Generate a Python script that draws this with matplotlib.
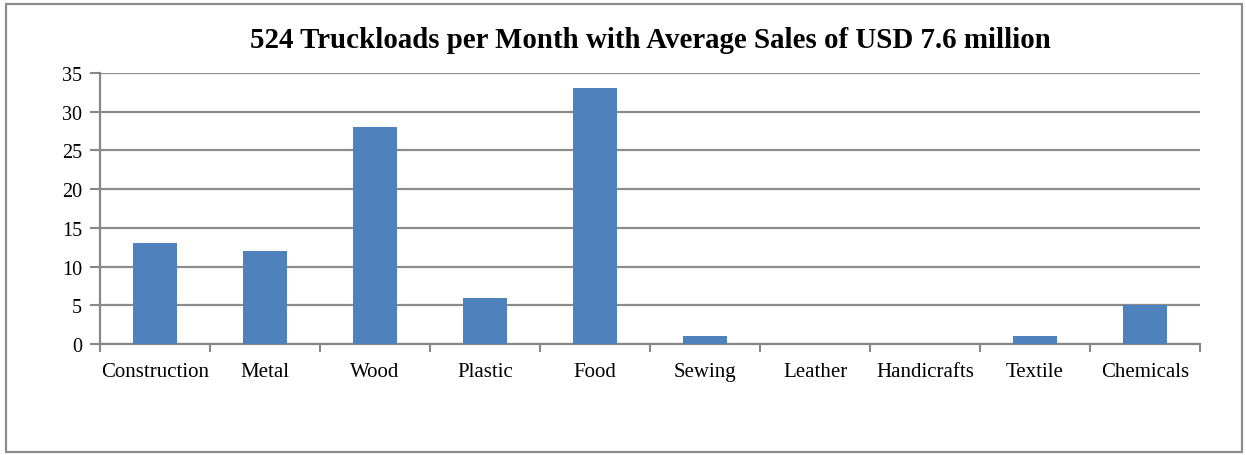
import matplotlib.pyplot as plt
import numpy as np

categories = ['Construction', 'Metal', 'Wood', 'Plastic', 'Food', 'Sewing',
              'Leather', 'Handicrafts', 'Textile', 'Chemicals']
truckloads = [13, 12, 28, 6, 33, 1, 0, 0, 1, 5]
title = '524 Truckloads per Month with Average Sales of USD 7.6 million'

plt.rcParams['font.family'] = ['Liberation Serif', 'DejaVu Serif']

fig = plt.figure(figsize=(12.46, 4.56), dpi=100)
ax = fig.add_axes([100 / 1246, 1 - 345 / 456, 1100 / 1246, 271 / 456])

x = np.arange(len(categories))
ax.bar(x, truckloads, width=0.4, color='#4F81BD', zorder=3)

ax.set_xlim(-0.5, len(categories) - 0.5)
ax.set_ylim(0, 35)
ax.set_yticks(range(0, 36, 5))
ax.set_xticks(x)
ax.set_xticklabels(categories, fontsize=15)
ax.tick_params(axis='x', length=0, pad=13)
ax.set_xticks(np.arange(-0.5, len(categories)), minor=True)
ax.tick_params(axis='x', which='minor', length=6, width=1.5, color='#888888', direction='out')
ax.tick_params(axis='y', labelsize=14.5, length=7, width=1.5, color='#888888', pad=6)

ax.grid(axis='y', color='#8c8c8c', linewidth=1.6, zorder=0)
for side in ['top', 'right']:
    ax.spines[side].set_visible(False)
for side in ['left', 'bottom']:
    ax.spines[side].set_color('#888888')
    ax.spines[side].set_linewidth(1.6)

fig.text(650 / 1246, 1 - 41 / 456, title, ha='center', va='center',
         fontsize=20.8, fontweight='bold')

# outer frame
frame = plt.Rectangle((6 / 1246, 3 / 456), 1236 / 1246, 448 / 456,
                      transform=fig.transFigure, fill=False,
                      edgecolor='#8c8c8c', linewidth=1.6)
fig.patches.append(frame)

fig.savefig('out.png', dpi=100)
